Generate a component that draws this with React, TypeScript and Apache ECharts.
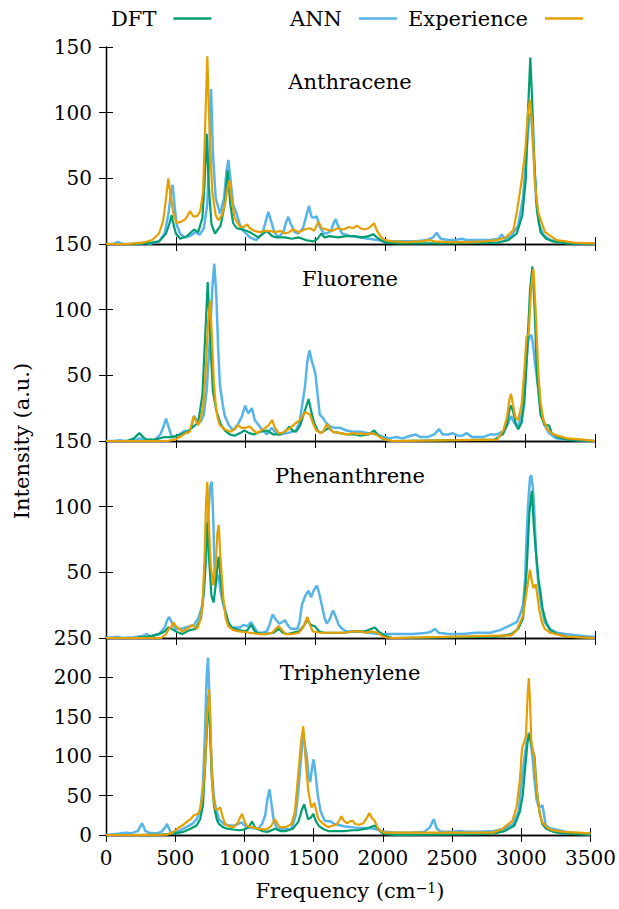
import React, { useEffect, useRef } from "react";
import * as echarts from "echarts";

// ---------- DATA (frequency cm^-1, intensity a.u.) ----------
const panelNames = ["Anthracene", "Fluorene", "Phenanthrene", "Triphenylene"];
const xTicks = [0, 500, 1000, 1500, 2000, 2500, 3000, 3500];
const yMaxes = [150, 150, 150, 250];

const anthraceneDFT = [[0,0],[100,0],[200,0],[300,0.5],[380,2],[430,8],[455,16],[470,22],[485,14],[500,8],[530,4],[580,6],[630,11],[660,9],[690,20],[705,45],[721,84],[735,45],[755,15],[780,8],[820,14],[850,30],[871,56],[890,30],[910,16],[935,12],[980,11],[1030,9],[1090,5],[1150,10],[1190,6],[1220,5],[1280,5],[1330,4],[1380,5],[1430,3],[1484,2],[1515,4],[1540,8],[1565,5],[1600,6],[1660,5],[1720,6],[1780,6],[1830,5],[1880,6],[1912,7.5],[1950,4],[2000,1],[2100,0.5],[2400,0.5],[2800,1],[2880,3],[2940,8],[2980,22],[3005,50],[3020,100],[3037,142],[3050,110],[3067,60],[3085,25],[3110,9],[3150,4],[3200,2],[3300,0.5],[3500,0]];
const anthraceneANN = [[0,0],[50,0],[87,1.5],[120,0],[250,0],[280,1.5],[310,0],[380,2],[420,8],[450,25],[465,40],[477,45],[490,30],[505,15],[530,8],[560,5],[600,6],[640,9],[670,7],[700,12],[725,30],[740,70],[752,118],[765,70],[785,35],[816,23],[845,35],[862,55],[876,64],[890,50],[910,30],[935,23],[960,14],[983,10],[1030,5],[1075,3],[1120,8],[1145,18],[1162,24.5],[1180,18],[1205,9],[1233,5],[1270,9],[1290,17],[1305,20.7],[1320,16],[1350,9],[1375,8],[1410,12],[1435,22],[1453,29],[1470,21],[1484,20],[1508,21],[1530,13],[1560,8],[1580,8],[1610,10],[1630,16],[1644,19],[1660,14],[1690,8],[1750,6],[1820,5],[1880,4],[1940,3],[2000,2],[2200,2],[2300,3],[2340,5],[2367,8.6],[2395,4],[2450,3],[2500,3],[2545,4],[2580,3],[2750,3],[2810,4],[2833,7.3],[2855,4],[2900,6],[2950,14],[2985,35],[3010,70],[3030,98],[3042,100],[3060,70],[3080,32],[3100,15],[3130,7],[3180,3],[3250,1],[3350,0.5],[3500,0]];
const anthraceneExp = [[0,0],[150,0],[265,1],[330,3],[380,8],[410,18],[430,35],[446,50],[465,35],[485,22],[506,16],[540,17],[570,19],[601,25],[625,21],[650,21],[675,25],[695,40],[710,90],[725,143],[740,90],[760,40],[785,22],[804,18],[830,22],[855,32],[868,42],[883,48.5],[898,35],[920,20],[959,13],[985,13],[1010,15],[1030,12],[1060,10],[1100,9],[1140,10],[1173,10],[1210,9],[1250,10],[1280,8],[1310,9],[1340,11],[1380,9],[1420,11],[1460,12],[1490,10],[1520,17],[1545,12],[1580,11],[1620,10],[1660,12],[1700,11],[1740,13],[1770,12],[1795,14],[1820,12],[1850,11],[1880,12],[1919,15.7],[1940,10],[1970,5],[2000,3],[2050,2],[2150,1.5],[2250,2],[2315,3],[2350,2],[2450,1.5],[2600,1.5],[2700,2],[2800,3],[2860,5],[2916,10.6],[2940,24],[2972,46],[3000,70],[3020,100],[3035,110],[3052,90],[3070,46],[3094,24],[3142,9],[3225,3],[3350,1],[3500,0.5]];

const fluoreneDFT = [[0,0],[150,0],[200,2],[239,6],[265,3],[290,1],[350,1],[420,3],[480,3],[530,5],[580,7],[615,10],[637,12],[660,14],[690,35],[710,80],[728,121],[745,80],[765,38],[790,23],[820,13],[850,8],[885,5],[920,4],[960,6],[990,8],[1025,6],[1060,5],[1100,7],[1150,8],[1200,5],[1250,5],[1290,8],[1312,11],[1335,8],[1360,7],[1390,12],[1420,22],[1450,32],[1470,22],[1490,14],[1515,8],[1537,6],[1565,8],[1594,10],[1625,7],[1677,6],[1720,5],[1770,5],[1820,4],[1880,5],[1920,8],[1950,4],[1990,1],[2050,0],[2780,1],[2840,5],[2870,12],[2890,25],[2899,27],[2915,22],[2935,12],[2950,9],[2975,14],[2995,30],[3015,70],[3035,115],[3052,133],[3068,100],[3085,50],[3110,20],[3140,12],[3171,12],[3190,6],[3230,3],[3300,1],[3500,0]];
const fluoreneANN = [[0,0],[60,0],[100,0.5],[140,0],[200,0.5],[243,2],[280,0.5],[350,1],[390,5],[415,12],[430,17],[450,10],[471,3],[510,4],[540,6],[566,8],[585,6],[610,10],[630,19],[650,16],[675,14],[700,20],[720,38],[745,80],[760,115],[775,135],[790,110],[803,70],[815,43],[835,28],[850,19],[880,12],[910,8],[945,13],[970,18],[997,27],[1010,23],[1020,21],[1044,25],[1065,16],[1100,11],[1150,5],[1185,10],[1210,7],[1240,5],[1300,6],[1360,8],[1385,14],[1405,28],[1425,42],[1440,60],[1456,69],[1475,60],[1490,55],[1500,50],[1515,35],[1530,20],[1550,18],[1575,14],[1605,11],[1640,10],[1677,10],[1720,8],[1770,7],[1820,7],[1880,6],[1940,5],[1990,3],[2030,2],[2078,3],[2120,2],[2180,4],[2215,5],[2250,3],[2300,3],[2350,5],[2384,9],[2410,5],[2450,5],[2480,6],[2520,4],[2550,4],[2580,6],[2620,3],[2700,3],[2750,5],[2800,5],[2850,8],[2880,14],[2899,19],[2920,14],[2950,11],[2980,22],[3000,45],[3020,75],[3030,79],[3043,81],[3055,75],[3070,60],[3094,40],[3110,25],[3140,12],[3170,6],[3220,2],[3300,1],[3500,0]];
const fluoreneExp = [[0,0],[200,0],[440,0],[490,1],[530,3],[570,6],[600,7],[618,15],[630,19],[645,15],[660,12],[680,18],[695,25],[715,55],[730,90],[745,107],[760,75],[772,45],[783,30],[800,17],[815,12],[850,9],[890,7],[920,9],[945,12],[970,10],[995,10],[1030,11],[1055,8],[1080,6],[1110,8],[1140,10],[1165,12],[1188,16],[1210,10],[1235,6],[1260,6],[1290,8],[1320,10],[1350,13],[1390,16],[1426,22],[1445,21],[1460,20],[1480,14],[1505,8],[1540,6],[1560,8],[1580,13],[1600,10],[1625,7],[1680,6],[1720,5],[1770,6],[1800,5],[1820,6],[1860,5],[1900,6],[1930,5],[1960,3],[2000,1],[2050,0],[2800,1],[2844,8],[2870,18],[2888,32],[2899,36],[2912,28],[2930,18],[2950,16],[2975,28],[2995,55],[3010,79],[3026,82],[3042,115],[3059,131],[3075,100],[3094,52],[3110,30],[3130,16],[3160,9],[3200,5],[3300,2],[3415,1],[3500,0]];

const phenanthreneDFT = [[0,0],[200,0],[300,1],[380,3],[420,5],[446,8],[470,7],[500,5],[545,3],[600,6],[640,7],[680,15],[700,35],[715,65],[725,88],[738,60],[755,32],[770,27],[785,40],[797,55],[807,62],[820,45],[838,28],[855,20],[875,12],[900,8],[950,6],[1005,5],[1025,8],[1040,10],[1060,6],[1075,4],[1130,3],[1200,4],[1237,7],[1265,4],[1300,3],[1380,5],[1420,10],[1441,14],[1465,10],[1495,9],[1525,5],[1560,4],[1600,4],[1700,4],[1780,5],[1850,5],[1900,7],[1925,8],[1950,5],[1990,2],[2050,0],[2800,1],[2900,3],[2950,7],[2985,15],[3010,50],[3030,95],[3048,112],[3062,85],[3080,62],[3095,45],[3107,37],[3125,22],[3150,12],[3180,6],[3230,3],[3300,1],[3500,0]];
const phenanthreneANN = [[0,0],[50,0.5],[80,1],[120,0],[200,0.5],[260,1.5],[290,3],[320,1],[380,3],[420,8],[440,14],[452,16],[470,12],[500,7],[540,7],[570,8],[600,9],[630,10],[660,15],[690,25],[710,50],[730,90],[745,115],[757,119],[768,90],[780,40],[792,45],[805,48],[820,35],[840,25],[855,20],[875,12],[900,8],[930,8],[960,8],[985,10],[1010,9],[1040,12],[1060,8],[1088,4],[1120,4],[1150,5],[1170,10],[1193,18],[1215,14],[1240,11],[1260,12],[1280,13.5],[1300,10],[1322,7],[1370,7],[1385,12],[1402,25],[1425,32],[1450,36],[1468,31],[1490,37],[1510,40],[1528,33],[1545,25],[1565,15],[1580,11],[1600,14],[1625,21],[1645,16],[1665,10],[1690,7],[1720,5],[1820,5],[1880,4],[1950,3],[2200,3],[2300,4],[2330,5],[2355,7],[2380,4],[2450,3],[2550,3],[2650,4],[2750,4],[2820,6],[2880,9],[2940,12],[2965,18],[2985,25],[3000,45],[3008,70],[3020,100],[3035,122],[3043,124],[3055,115],[3064,100],[3072,80],[3080,62],[3095,40],[3115,25],[3140,12],[3175,7],[3230,4],[3290,3],[3380,2],[3460,1],[3500,1]];
const phenanthreneExp = [[0,0],[200,0],[395,0],[430,3],[450,7],[466,8],[482,12],[500,9],[545,5],[580,7],[616,10],[640,8],[652,7],[670,12],[690,23],[705,60],[715,100],[725,119],[735,90],[750,55],[768,40],[785,55],[797,80],[807,86],[820,60],[840,30],[857,15],[875,9],[910,6],[955,5],[1030,4],[1100,3],[1150,3],[1190,4],[1215,7],[1237,9],[1260,6],[1285,3],[1330,3],[1380,4],[1410,8],[1441,16],[1460,10],[1480,5],[1530,4],[1650,4],[1700,4],[1770,5],[1820,5],[1860,4],[1900,5],[1940,4],[1970,2],[2000,0.5],[2050,0],[2900,2],[2940,6],[2985,17],[3010,35],[3035,52],[3050,42],[3060,38],[3075,41],[3088,32],[3100,22],[3120,12],[3140,7],[3180,4],[3220,3],[3300,1],[3400,0.5],[3500,0]];

const triphenyleneDFT = [[0,0],[200,0],[400,0.5],[440,1],[500,2],[560,4],[610,8],[654,12],[680,20],[700,37],[720,100],[740,177],[752,130],[765,70],[780,37],[800,20],[815,14],[845,10],[875,8],[920,7],[960,6],[1000,7],[1030,10],[1055,17],[1075,10],[1090,8],[1130,5],[1170,4],[1220,8],[1260,5],[1300,5],[1350,8],[1390,17],[1415,32],[1432,39],[1448,28],[1460,20],[1480,22],[1497,27],[1515,18],[1535,12],[1565,8],[1605,5],[1660,5],[1720,5],[1780,6],[1820,6],[1880,8],[1940,12],[1965,8],[1990,3],[2020,1],[2100,0],[2700,1],[2800,2],[2880,5],[2950,12],[2990,30],[3010,50],[3030,90],[3045,118],[3059,128],[3075,112],[3095,100],[3110,60],[3130,30],[3152,14],[3180,8],[3230,4],[3300,2],[3500,0]];
const triphenyleneANN = [[0,0],[50,1],[100,2],[145,3],[180,2],[230,5],[260,15],[285,5],[310,3],[360,2],[400,4],[425,9],[441,14],[455,8],[470,3],[520,5],[560,8],[600,12],[630,15],[654,20],[680,30],[700,63],[715,130],[727,200],[737,225],[748,170],[758,110],[766,80],[778,50],[790,37],[815,20],[850,14],[890,12],[930,12],[955,14],[980,16],[1000,12],[1015,10],[1050,9],[1100,8],[1130,15],[1150,25],[1165,45],[1181,58],[1195,40],[1210,20],[1228,11],[1245,8],[1290,7],[1340,8],[1370,25],[1390,58],[1410,100],[1425,130],[1440,110],[1450,100],[1463,75],[1475,67],[1488,85],[1500,96],[1512,80],[1530,50],[1550,30],[1580,18],[1625,17],[1650,14],[1720,11],[1770,10],[1820,9],[1880,9],[1940,8],[1975,6],[2010,4],[2100,3],[2200,3],[2300,4],[2340,10],[2367,20],[2390,8],[2420,4],[2500,4],[2560,5],[2600,4],[2700,4],[2800,5],[2880,8],[2940,14],[2980,30],[3010,80],[3035,115],[3054,130],[3067,120],[3080,100],[3095,70],[3110,45],[3125,36],[3140,36],[3152,38],[3165,25],[3175,13],[3200,9],[3270,6],[3350,3],[3450,2],[3500,1]];
const triphenyleneExp = [[0,0],[200,0],[440,0.5],[480,3],[515,8],[550,12],[585,17],[610,20],[635,25],[665,27],[685,35],[700,55],[715,90],[730,150],[745,185],[755,140],[766,67],[778,45],[790,33],[805,32],[825,35],[840,25],[860,14],[890,11],[920,10],[950,15],[968,22],[983,27],[1000,18],[1015,12],[1050,10],[1100,8],[1140,7],[1170,8],[1195,12],[1220,20],[1235,15],[1255,10],[1300,10],[1340,14],[1365,30],[1390,80],[1410,120],[1425,138],[1440,100],[1460,58],[1475,42],[1485,35],[1505,41],[1520,30],[1535,20],[1570,14],[1605,10],[1640,12],[1670,14],[1690,20],[1700,24],[1718,18],[1740,15],[1760,17],[1780,18],[1800,14],[1830,13],[1860,15],[1885,22],[1902,28],[1920,22],[1940,18],[1960,10],[1975,6],[2010,3],[2100,3],[2400,3],[2600,3],[2795,3],[2865,8],[2935,18],[2965,35],[2990,70],[3005,110],[3020,118],[3033,125],[3045,175],[3054,199],[3063,170],[3072,120],[3082,108],[3092,100],[3105,70],[3118,46],[3135,25],[3152,16],[3190,9],[3225,6],[3300,4],[3410,3],[3500,2]];

const panelData = [
  { dft: anthraceneDFT, ann: anthraceneANN, exp: anthraceneExp },
  { dft: fluoreneDFT, ann: fluoreneANN, exp: fluoreneExp },
  { dft: phenanthreneDFT, ann: phenanthreneANN, exp: phenanthreneExp },
  { dft: triphenyleneDFT, ann: triphenyleneANN, exp: triphenyleneExp },
];

// ---------- STYLE ----------
const FONT = "DejaVu Serif";
const FS_NUM = 20;
const FS_TXT = 21;
const COLORS: Record<string, string> = { DFT: "#009e73", ANN: "#56b4e9", Experience: "#e69f00" };
const PLOT_LEFT = 106;
const PLOT_WIDTH = 489;
const PANEL_TOPS = [47, 244, 441, 638];
const PANEL_H = 197;

function buildOption() {
  const grid = PANEL_TOPS.map((t) => ({ left: PLOT_LEFT, top: t, width: PLOT_WIDTH, height: PANEL_H, containLabel: false }));
  const axisLine = { show: true, lineStyle: { color: "#000", width: 1.3 } };
  const axisTick = { show: true, inside: true, length: 7, lineStyle: { color: "#000", width: 1 } };
  const xAxis: any[] = [];
  const yAxis: any[] = [];
  const series: any[] = [];
  for (let i = 0; i < 4; i++) {
    const common = { type: "value", gridIndex: i, min: xTicks[0], max: xTicks[xTicks.length - 1], interval: 500, splitLine: { show: false }, axisLine, axisTick };
    xAxis.push({
      ...common,
      position: "bottom",
      axisLabel: { show: i === 3, fontFamily: FONT, fontSize: FS_NUM, color: "#000", margin: 13, formatter: (v: number) => String(v) },
    });
    xAxis.push({ ...common, position: "top", axisLabel: { show: false } });
    const yCommon = { type: "value", gridIndex: i, min: 0, max: yMaxes[i], interval: 50, splitLine: { show: false }, axisLine, axisTick };
    yAxis.push({
      ...yCommon,
      position: "left",
      axisLabel: {
        show: true,
        showMinLabel: true,
        showMaxLabel: true,
        fontFamily: FONT,
        fontSize: FS_NUM,
        color: "#000",
        margin: 14,
        formatter: (v: number) => (i < 3 && v === 0 ? "" : String(v)),
      },
    });
    yAxis.push({ ...yCommon, position: "right", axisLabel: { show: false } });

    const d = panelData[i];
    const mk = (name: string, data: number[][], w: number, z: number) => ({
      type: "line",
      name,
      xAxisIndex: 2 * i,
      yAxisIndex: 2 * i,
      data,
      showSymbol: false,
      symbol: "none",
      z,
      lineStyle: { color: COLORS[name], width: w },
      itemStyle: { color: COLORS[name] },
    });
    series.push(mk("ANN", d.ann, 2.5, 2));
    series.push(mk("DFT", d.dft, 2.2, 3));
    series.push(mk("Experience", d.exp, 2.2, 4));
  }

  const legendStyle = (name: string, left: number) => ({
    data: [name],
    left,
    top: 8,
    orient: "horizontal",
    align: "right",
    icon: "rect",
    itemWidth: 38,
    itemHeight: 2.5,
    selectedMode: false,
    padding: 0,
    textStyle: { fontFamily: FONT, fontSize: FS_TXT, color: "#000", padding: [0, 12, 0, 0] },
  });

  const txt = (text: string, x: number, y: number, extra: any = {}) => ({
    type: "text",
    x,
    y,
    ...extra,
    style: { text, fontFamily: FONT, fontSize: FS_TXT, fill: "#000", align: "center", verticalAlign: "middle", textAlign: "center", textVerticalAlign: "middle", ...(extra.style || {}) },
  });

  const graphic: any[] = [];
  panelNames.forEach((n, i) => {
    graphic.push(txt(n, 350, PANEL_TOPS[i] + 35));
  });
  graphic.push(txt("Intensity (a.u.)", 22, 441, { rotation: Math.PI / 2 }));
  graphic.push(
    txt("Frequency (cm{sup|−1})", 350, 891, {
      style: { rich: { sup: { fontFamily: FONT, fontSize: 14, fill: "#000", verticalAlign: "top" } } },
    })
  );

  return {
    animation: false,
    backgroundColor: "#fff",
    textStyle: { fontFamily: FONT },
    grid,
    xAxis,
    yAxis,
    series,
    legend: [legendStyle("DFT", 111), legendStyle("ANN", 290), legendStyle("Experience", 408)],
    graphic,
  };
}

export default function App() {
  const ref = useRef<HTMLDivElement>(null);
  useEffect(() => {
    if (!ref.current) return;
    const chart = echarts.init(ref.current, null, { renderer: "svg" });
    chart.setOption(buildOption() as any);
    return () => chart.dispose();
  }, []);
  return (
    <div
      ref={ref}
      style={{ position: "fixed", left: 0, top: 0, width: 619, height: 909, background: "#fff" }}
    />
  );
}
